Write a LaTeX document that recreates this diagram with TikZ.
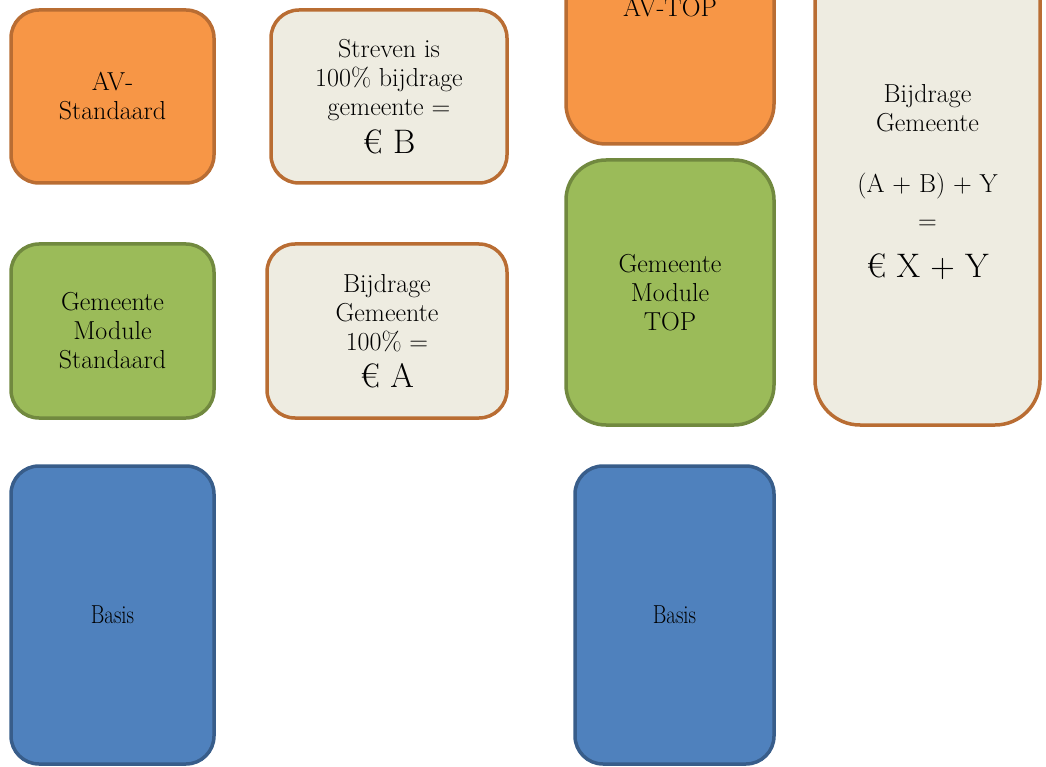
\documentclass[tikz,border=0pt]{standalone}
\usepackage{fontspec}
\usepackage{tikz}
\definecolor{oranjevul}{HTML}{F79646}
\definecolor{oranjerand}{HTML}{B96D33}
\definecolor{groenvul}{HTML}{9BBB59}
\definecolor{groenrand}{HTML}{71893F}
\definecolor{blauwvul}{HTML}{4F81BD}
\definecolor{blauwrand}{HTML}{385D8A}
\definecolor{creme}{HTML}{EEECE1}
\newcommand{\groot}{\fontsize{34}{36}\selectfont}

\begin{document}
\begin{tikzpicture}[x=1pt,y=-1pt,
    blok/.style={rectangle,rounded corners=28pt,line width=3.5pt,align=center,
        inner sep=0pt,font=\fontsize{26}{29}\selectfont},
    av/.style={blok,fill=oranjevul,draw=oranjerand},
    module/.style={blok,fill=groenvul,draw=groenrand},
    basis/.style={blok,fill=blauwvul,draw=blauwrand},
    bedrag/.style={blok,fill=creme,draw=oranjerand}]
\clip (0,0) rectangle (1046,767);
\useasboundingbox (0,0) rectangle (1046,767);

% linker kolom: standaard
\node (AVS)[av,minimum width=203pt,minimum height=173pt] at (112.5,96.5) {AV-\\Standaard};
\node (GMS)[module,minimum width=203pt,minimum height=174pt] at (112.5,331) {Gemeente\\Module\\Standaard};
\node (BS)[basis,minimum width=203pt,minimum height=298pt] at (112.5,615) {\scalebox{0.8}[1]{Basis}};

% bijdragen standaard
\node (SB)[bedrag,minimum width=236pt,minimum height=173pt] at (389,96.5) {Streven is\\100\% bijdrage\\gemeente =\\[8pt] {\groot € B}};
\node (BA)[bedrag,minimum width=240pt,minimum height=174pt] at (387,331) {Bijdrage\\Gemeente\\100\% =\\[8pt] {\groot € A}};

% rechter kolom: TOP
\node (AVT)[av,rounded corners=40pt,minimum width=208pt,minimum height=272pt] at (670,8) {AV-TOP};
\node (GMT)[module,rounded corners=40pt,minimum width=208pt,minimum height=265pt] at (670,292.5) {Gemeente\\Module\\TOP};
\node (BT)[basis,minimum width=199pt,minimum height=298pt] at (674.5,615) {\scalebox{0.8}[1]{Basis}};

% totale bijdrage
\node (BT2)[bedrag,rounded corners=45pt,minimum width=225pt,minimum height=486pt] at (927.5,182)
    {Bijdrage\\Gemeente\\[32pt] (A + B) + Y\\[8pt] =\\[19pt] {\groot € X + Y}};
\end{tikzpicture}
\end{document}
